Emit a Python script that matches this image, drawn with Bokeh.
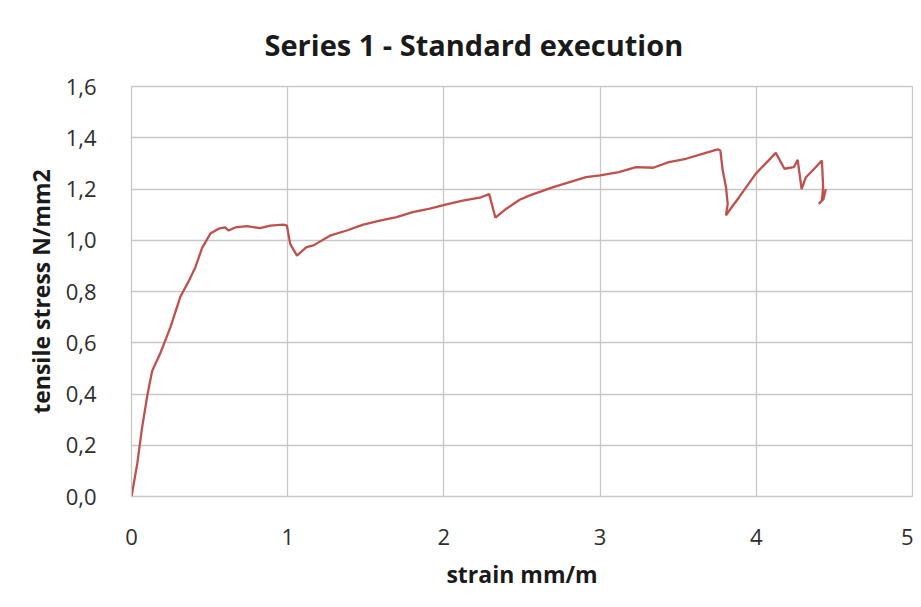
from bokeh.plotting import figure
from bokeh.models import FixedTicker, Range1d
from bokeh.embed import file_html
from bokeh.resources import INLINE

# strain in mm/m and tensile stress in N/mm2
strain = [0.0, 0.037, 0.068, 0.10, 0.132, 0.185, 0.249, 0.313, 0.366, 0.409,
          0.452, 0.505, 0.558, 0.60, 0.62, 0.665, 0.74, 0.824, 0.888, 0.973,
          0.995, 1.016, 1.059, 1.12, 1.165, 1.27, 1.378, 1.484, 1.59, 1.697,
          1.80, 1.91, 2.017, 2.12, 2.23, 2.29, 2.33, 2.40, 2.485, 2.55,
          2.70, 2.91, 3.0, 3.12, 3.23, 3.34, 3.44, 3.55, 3.655, 3.753,
          3.77, 3.785, 3.806, 3.817, 3.806, 3.827, 3.89, 3.997, 4.125, 4.18,
          4.24, 4.265, 4.29, 4.318, 4.38, 4.42, 4.428, 4.42, 4.40, 4.43, 4.445]
stress = [0.0, 0.129, 0.27, 0.39, 0.49, 0.56, 0.66, 0.78, 0.84, 0.895,
          0.97, 1.026, 1.045, 1.05, 1.038, 1.05, 1.055, 1.047, 1.057, 1.061,
          1.057, 0.986, 0.94, 0.973, 0.98, 1.018, 1.038, 1.061, 1.077, 1.09,
          1.11, 1.123, 1.14, 1.155, 1.166, 1.18, 1.088, 1.123, 1.158, 1.175,
          1.207, 1.246, 1.253, 1.266, 1.285, 1.283, 1.305, 1.318, 1.337, 1.355,
          1.35, 1.272, 1.207, 1.142, 1.097, 1.116, 1.168, 1.26, 1.341, 1.279,
          1.285, 1.314, 1.20, 1.246, 1.285, 1.311, 1.207, 1.155, 1.142, 1.16, 1.20]

x_ticks = [0, 1, 2, 3, 4, 5]
y_ticks = [0.0, 0.2, 0.4, 0.6, 0.8, 1.0, 1.2, 1.4, 1.6]
y_tick_labels = ["0,0", "0,2", "0,4", "0,6", "0,8", "1,0", "1,2", "1,4", "1,6"]

FONT = "Open Sans"
GRID = "#c8c8c8"

p = figure(width=913, height=599, output_backend="svg", toolbar_location=None,
           x_range=Range1d(0, 5), y_range=Range1d(0, 1.6),
           title="Series 1 - Standard execution",
           min_border_left=131, min_border_right=1, min_border_top=86,
           min_border_bottom=103)

p.line(strain, stress, line_color="#c0504d", line_width=2.3)

p.title.align = "left"
p.title.vertical_align = "middle"
p.title.text_font = FONT
p.title.text_font_size = "29px"
p.title.text_font_style = "bold"
p.title.text_color = "#1a1a1a"
p.title.offset = 133
p.title.standoff = 44

p.xaxis.ticker = FixedTicker(ticks=x_ticks)
p.yaxis.ticker = FixedTicker(ticks=y_ticks)
p.yaxis.major_label_overrides = {t: l for t, l in zip(y_ticks, y_tick_labels)}
p.xaxis.major_label_overrides = {t: str(t) for t in x_ticks}

p.xaxis.axis_label = "strain mm/m"
p.yaxis.axis_label = "tensile stress N/mm2"
for ax in (p.xaxis[0], p.yaxis[0]):
    ax.axis_label_text_font = FONT
    ax.axis_label_text_font_size = "23px"
    ax.axis_label_text_font_style = "bold"
    ax.axis_label_text_color = "#1a1a1a"
    ax.major_label_text_font = FONT
    ax.major_label_text_font_size = "22px"
    ax.major_label_text_color = "#2e2e2e"
    ax.major_tick_line_color = None
    ax.minor_tick_line_color = None
    ax.axis_line_color = GRID

p.xaxis.major_label_standoff = 26
p.xaxis.axis_label_standoff = 10
p.yaxis.major_label_standoff = 29
p.yaxis.axis_label_standoff = 6

p.xgrid.grid_line_color = GRID
p.ygrid.grid_line_color = GRID
p.xgrid.grid_line_width = 1.3
p.ygrid.grid_line_width = 1.3
p.outline_line_color = GRID
p.outline_line_width = 1.3
p.background_fill_color = "white"
p.border_fill_color = "white"

open("out.html", "w").write(file_html(p, INLINE))
